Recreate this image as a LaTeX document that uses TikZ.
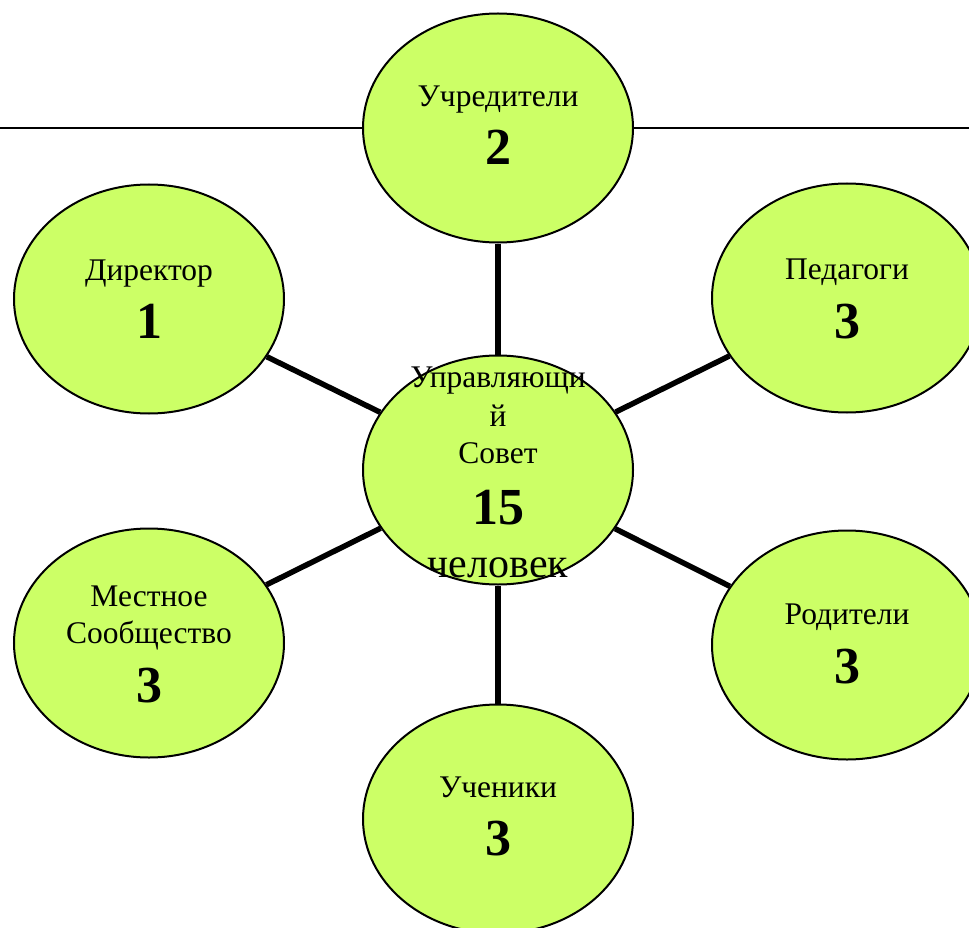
\documentclass[tikz,border=0pt]{standalone}
\usepackage{fontspec}
\setmainfont{Liberation Serif}
\usetikzlibrary{shapes.geometric}
\definecolor{lgreen}{RGB}{204,255,102}
\tikzset{
  x=1pt, y=-1pt,
  oval/.style={ellipse, draw=black, line width=2pt, fill=lgreen, minimum width=270pt, minimum height=229pt, inner sep=0pt},
  link/.style={draw=black, line width=5.5pt},
  rule/.style={draw=black, line width=2.5pt},
  lbl/.style={anchor=base, inner sep=0pt, font=\fontsize{31.5}{37}\selectfont},
  num/.style={anchor=base, inner sep=0pt, font=\fontsize{52}{56}\selectfont\bfseries},
  big/.style={anchor=base, inner sep=0pt, font=\fontsize{42}{48}\selectfont}
}
\begin{document}
\begin{tikzpicture}
\useasboundingbox (0,0) rectangle (969,928);
\coordinate (L) at (0,128);
\coordinate (R) at (969,128);
% ellipses
\node[oval] (top) at (498,128) {};
\node[oval] (ctr) at (498,470) {};
\node[oval] (dir) at (149,299) {};
\node[oval] (ped) at (847,298) {};
\node[oval] (mest) at (149,643) {};
\node[oval] (rod) at (847,645) {};
\node[oval] (uch) at (498,819) {};
% connectors
\draw[rule] (L) -- (top.west);
\draw[rule] (top.east) -- (R);
\draw[link] (top) -- (ctr);
\draw[link] (dir) -- (ctr);
\draw[link] (ped) -- (ctr);
\draw[link] (mest) -- (ctr);
\draw[link] (rod) -- (ctr);
\draw[link] (uch) -- (ctr);
% texts
\node[lbl] (t1) at (498,107) {Учредители};
\node[num] (n1) at (498,165) {2};
\node[lbl] (t2) at (149,280) {Директор};
\node[num] (n2) at (149,338) {1};
\node[lbl] (t3) at (847,279) {Педагоги};
\node[num] (n3) at (847,338) {3};
\node[lbl] (t4a) at (149,606) {Местное};
\node[lbl] (t4b) at (149,643) {Сообщество};
\node[num] (n4) at (149,702) {3};
\node[lbl] (t5) at (847,624) {Родители};
\node[num] (n5) at (847,683) {3};
\node[lbl] (t6) at (498,797) {Ученики};
\node[num] (n6) at (498,855) {3};
\node[lbl] (c1) at (498,387) {Управляющи};
\node[lbl] (c2) at (498,426) {й};
\node[lbl] (c3) at (498,463) {Совет};
\node[num] (c4) at (498,524) {15};
\node[big] (c5) at (498,577) {человек};
\end{tikzpicture}
\end{document}
